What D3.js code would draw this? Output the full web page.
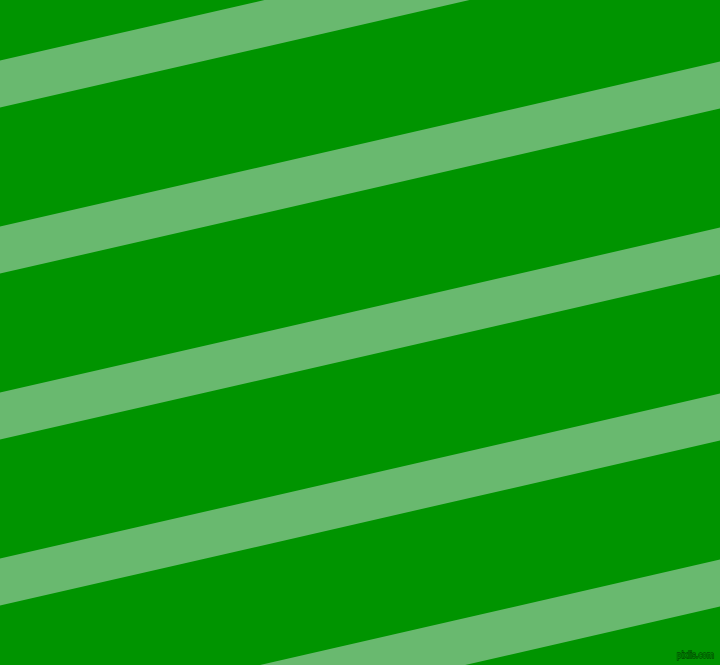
<!DOCTYPE html>
<html><head><meta charset="utf-8">
<script src="https://cdn.jsdelivr.net/npm/d3@7"></script>
<style>html,body{margin:0;padding:0;overflow:hidden;background:#009400}</style>
</head><body>
<svg id="c" width="720" height="665"></svg>
<script>
const stripeIndex = [0, 1, 2, 3, 4];
const stripeColor = "#69b96f";
const bgColor = "#009400";
const watermark = "pixlis.com";

const W = 720, H = 665;
const svg = d3.select("#c");
svg.append("rect").attr("width", W).attr("height", H).attr("fill", bgColor);

// index -> left-edge y of stripe top
const yStart = d3.scaleLinear().domain([0, 1]).range([60.6, 226.6]);
const rise = 165, thick = 47;
const x = d3.scaleLinear().domain([0, 1]).range([0, W]);
const line = d3.line().x(d => x(d[0])).y(d => d[1]);

svg.selectAll("path.s").data(stripeIndex).join("path")
  .attr("class", "s")
  .attr("fill", stripeColor)
  .attr("d", i => {
    const y0 = yStart(i);
    return line([[0, y0], [1, y0 - rise], [1, y0 - rise + thick], [0, y0 + thick]]) + "Z";
  });

svg.append("text").attr("x", 714).attr("y", 658).attr("text-anchor", "end")
  .attr("font-family", "DejaVu Sans").attr("font-size", 9.5)
  .attr("fill", "#009400").attr("stroke", "#004c00").attr("stroke-width", 1.3)
  .attr("paint-order", "stroke")
  .attr("transform", "translate(714,658) scale(0.78,1) translate(-714,-658)")
  .text(watermark);
</script>
</body></html>
